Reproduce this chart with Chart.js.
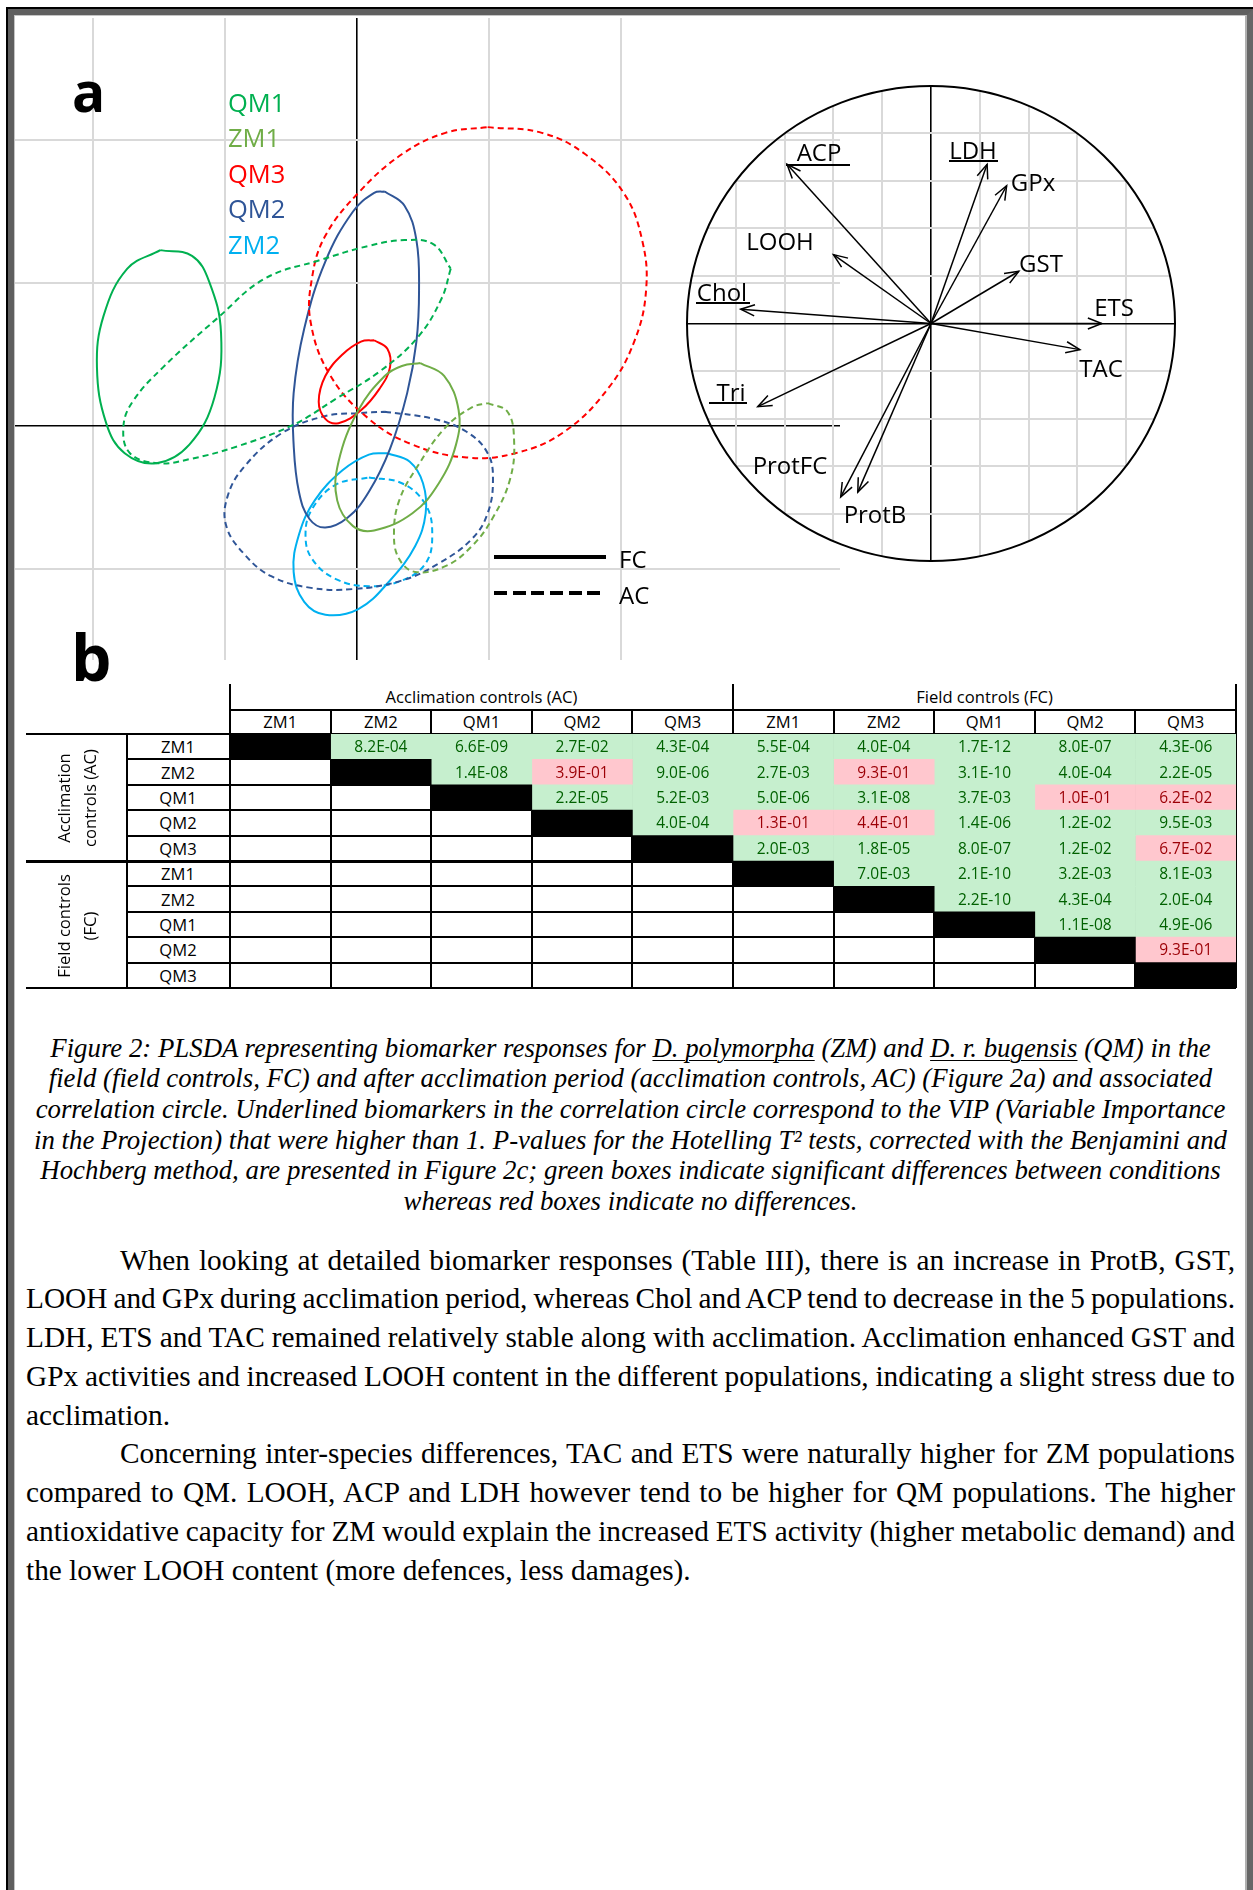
<!DOCTYPE html>
<html>
<head>
<meta charset="utf-8">
<script src="https://cdn.jsdelivr.net/npm/chart.js@4.4.0/dist/chart.umd.min.js"></script>
<style>
  html, body { margin: 0; padding: 0; background: #fff; }
  body { width: 1253px; height: 1890px; position: relative; overflow: hidden; font-family: "Open Sans", sans-serif; color: #000; }
  canvas, .abs { position: absolute; }
  #frame { position: absolute; left: 6px; top: 7px; width: 1247px; height: 1900px; border-left: 2px solid #000; border-top: 2px solid #000; box-sizing: border-box; z-index: 5; pointer-events: none; }
  #frame div { position: absolute; left: 0; top: 0; right: 0; bottom: 0; border-left: 6px solid #5f5f5f; border-top: 6px solid #5f5f5f; border-right: 6px solid #666; }
  #frame div div { border: none; border-left: 1px solid #c4c4c4; border-top: 1px solid #c4c4c4; border-right: 2px solid #b0b0b0; }
  .panel { font-weight: 700; line-height: 1; }
  .lg { font-size: 25.5px; line-height: 1; transform: translateY(-50%); }
  .cl { font-size: 24px; line-height: 1; transform: translate(-50%, -50%); white-space: nowrap; }
  .ul { height: 2px; background: #000; }
  .tl { background: #000; }
  .th { font-size: 16.6px; line-height: 1; transform: translate(-50%, -50%); white-space: nowrap; }
  .cap { left: 4px; width: 1253px; text-align: center; font-family: "Liberation Serif", "Times New Roman", serif; font-style: italic; font-size: 26.8px; height: 30.6px; line-height: 30.6px; white-space: nowrap; }
  .cap u { text-decoration-thickness: 1px; text-underline-offset: 3px; }
  .txt { font-family: "Liberation Serif", "Times New Roman", serif; font-size: 29.3px; height: 38.75px; line-height: 38.75px; }
  .j { text-align: justify; text-align-last: justify; word-spacing: -4px; }
</style>
</head>
<body>
<div id="frame"><div><div></div></div></div>

<!-- panel a -->
<canvas id="plsda" width="827" height="642" style="left:13px;top:18px"></canvas>
<canvas id="circle" width="508" height="495" style="left:676.5px;top:76px"></canvas>
<div class="abs panel" style="left:72px;top:63px;font-size:55px">a</div>
<div id="legend"></div>
<div class="abs" style="left:494px;top:555px;width:112px;height:4px;background:#000"></div>
<div class="abs" style="left:494px;top:591px;width:112px;height:4px;background:repeating-linear-gradient(90deg,#000 0 13px,transparent 13px 18.7px)"></div>
<div class="abs lg" style="left:619px;top:559px;font-size:24px">FC</div>
<div class="abs lg" style="left:619px;top:595px;font-size:24px">AC</div>
<div id="circleLabels"></div>

<!-- panel b -->
<div class="abs panel" style="left:71px;top:625px;font-size:64px">b</div>
<div id="tableDeco"></div>
<canvas id="ptable" width="1014" height="262" style="left:226px;top:730px"></canvas>

<!-- caption -->
<div class="abs cap" style="top:1032.7px">Figure 2: PLSDA representing biomarker responses for <u>D. polymorpha</u> (ZM) and <u>D. r. bugensis</u> (QM) in the</div>
<div class="abs cap" style="top:1063.3px">field (field controls, FC) and after acclimation period (acclimation controls, AC) (Figure 2a) and associated</div>
<div class="abs cap" style="top:1093.9px">correlation circle. Underlined biomarkers in the correlation circle correspond to the VIP (Variable Importance</div>
<div class="abs cap" style="top:1124.5px">in the Projection) that were higher than 1. P-values for the Hotelling T² tests, corrected with the Benjamini and</div>
<div class="abs cap" style="top:1155.1px">Hochberg method, are presented in Figure 2c; green boxes indicate significant differences between conditions</div>
<div class="abs cap" style="top:1185.7px">whereas red boxes indicate no differences.</div>

<!-- body text -->
<div class="abs txt j" style="left:120px;width:1115px;top:1240.6px">When looking at detailed biomarker responses (Table III), there is an increase in ProtB, GST,</div>
<div class="abs txt j" style="left:26px;width:1209px;top:1279.4px">LOOH and GPx during acclimation period, whereas Chol and ACP tend to decrease in the 5 populations.</div>
<div class="abs txt j" style="left:26px;width:1209px;top:1318.1px">LDH, ETS and TAC remained relatively stable along with acclimation. Acclimation enhanced GST and</div>
<div class="abs txt j" style="left:26px;width:1209px;top:1356.9px">GPx activities and increased LOOH content in the different populations, indicating a slight stress due to</div>
<div class="abs txt" style="left:26px;top:1395.6px">acclimation.</div>
<div class="abs txt j" style="left:120px;width:1115px;top:1434.4px">Concerning inter-species differences, TAC and ETS were naturally higher for ZM populations</div>
<div class="abs txt j" style="left:26px;width:1209px;top:1473.1px">compared to QM. LOOH, ACP and LDH however tend to be higher for QM populations. The higher</div>
<div class="abs txt j" style="left:26px;width:1209px;top:1511.9px">antioxidative capacity for ZM would explain the increased ETS activity (higher metabolic demand) and</div>
<div class="abs txt" style="left:26px;top:1550.6px">the lower LOOH content (more defences, less damages).</div>

<script>
// ---- panel a: PLSDA score ellipses (component 1, component 2) ----
const groups = ['QM1', 'ZM1', 'QM3', 'QM2', 'ZM2'];
const groupColors = ['#00b050', '#70ad47', '#ff0000', '#2f5597', '#00b0f0'];

const qm1FC = [[-1.49,1.23],[-1.25,1.19],[-1.12,1.01],[-1.03,0.65],[-1.08,0.20],[-1.27,-0.13],[-1.52,-0.26],[-1.76,-0.19],[-1.90,0.02],[-1.97,0.41],[-1.92,0.77],[-1.74,1.10]];
const qm1AC = [[0.71,1.10],[0.64,0.89],[0.46,0.62],[0.17,0.38],[-0.16,0.19],[-0.48,0.01],[-0.90,-0.14],[-1.26,-0.23],[-1.51,-0.26],[-1.72,-0.19],[-1.77,-0.01],[-1.70,0.17],[-1.47,0.41],[-1.05,0.76],[-0.70,1.03],[-0.28,1.16],[0.09,1.26],[0.36,1.30],[0.58,1.27]];
const zm1FC = [[0.48,0.44],[0.66,0.35],[0.77,0.11],[0.75,-0.13],[0.62,-0.40],[0.42,-0.61],[0.13,-0.73],[-0.03,-0.70],[-0.15,-0.52],[-0.14,-0.25],[0.01,0.11],[0.21,0.35],[0.34,0.42]];
const zm1AC = [[0.99,0.16],[1.14,0.10],[1.19,-0.10],[1.16,-0.37],[1.03,-0.64],[0.87,-0.84],[0.67,-0.98],[0.44,-1.02],[0.32,-0.93],[0.28,-0.76],[0.32,-0.52],[0.46,-0.28],[0.67,-0.01],[0.87,0.13]];
const qm3FC = [[0.13,0.60],[0.23,0.54],[0.25,0.41],[0.17,0.26],[0.03,0.11],[-0.14,0.02],[-0.24,0.05],[-0.29,0.17],[-0.24,0.35],[-0.11,0.50],[0.03,0.59]];
const qm3AC = [[0.99,2.09],[1.40,2.05],[1.73,1.90],[2.02,1.63],[2.16,1.30],[2.19,0.95],[2.10,0.59],[1.90,0.26],[1.57,-0.04],[1.20,-0.19],[0.83,-0.22],[0.42,-0.13],[0.09,0.05],[-0.20,0.35],[-0.35,0.72],[-0.34,1.04],[-0.24,1.33],[0.01,1.63],[0.34,1.90],[0.67,2.05]];
const qm2FC = [[0.21,1.64],[0.36,1.54],[0.45,1.30],[0.47,0.95],[0.45,0.59],[0.38,0.23],[0.25,-0.16],[0.09,-0.46],[-0.07,-0.64],[-0.24,-0.71],[-0.36,-0.65],[-0.44,-0.46],[-0.48,-0.13],[-0.48,0.23],[-0.40,0.68],[-0.24,1.15],[-0.03,1.50],[0.13,1.63]];
const qm2AC = [[0.21,0.10],[0.58,0.05],[0.83,-0.04],[0.99,-0.19],[1.03,-0.37],[0.99,-0.61],[0.87,-0.79],[0.62,-0.96],[0.34,-1.08],[-0.03,-1.14],[-0.36,-1.13],[-0.65,-1.05],[-0.85,-0.90],[-0.99,-0.70],[-0.98,-0.49],[-0.85,-0.28],[-0.57,-0.05],[-0.24,0.07],[0.01,0.09]];
const zm2FC = [[0.23,-0.19],[0.40,-0.25],[0.50,-0.40],[0.52,-0.61],[0.44,-0.84],[0.25,-1.08],[0.01,-1.28],[-0.24,-1.32],[-0.40,-1.23],[-0.48,-1.02],[-0.44,-0.76],[-0.32,-0.52],[-0.11,-0.31],[0.09,-0.20]];
const zm2AC = [[0.09,-0.36],[0.34,-0.40],[0.52,-0.55],[0.57,-0.76],[0.52,-0.96],[0.34,-1.08],[0.09,-1.12],[-0.16,-1.07],[-0.34,-0.93],[-0.39,-0.76],[-0.34,-0.58],[-0.16,-0.41]];

const fcEllipses = [qm1FC, zm1FC, qm3FC, qm2FC, zm2FC];
const acEllipses = [qm1AC, zm1AC, qm3AC, qm2AC, zm2AC];
const scoreTicksX = [-2, -1, 0, 1, 2];
const scoreTicksY = [-1, 0, 1, 2];

// ---- correlation circle loadings ----
const biomarkers = ['ACP', 'LDH', 'GPx', 'LOOH', 'GST', 'Chol', 'ETS', 'TAC', 'Tri', 'ProtFC', 'ProtB'];
const load1 = [-0.59, 0.23, 0.31, -0.40, 0.36, -0.78, 0.70, 0.61, -0.71, -0.37, -0.30];
const load2 = [0.67, 0.67, 0.58, 0.29, 0.22, 0.06, 0.00, -0.11, -0.35, -0.73, -0.71];
const circleTicks = [-0.8, -0.6, -0.4, -0.2, 0, 0.2, 0.4, 0.6, 0.8];

// ---- panel b: Hotelling T2 p-values ----
const conditions = ['ZM1', 'ZM2', 'QM1', 'QM2', 'QM3'];
const pValues = [
  [null, 8.2e-4, 6.6e-9, 2.7e-2, 4.3e-4, 5.5e-4, 4.0e-4, 1.7e-12, 8.0e-7, 4.3e-6],
  [null, null, 1.4e-8, 3.9e-1, 9.0e-6, 2.7e-3, 9.3e-1, 3.1e-10, 4.0e-4, 2.2e-5],
  [null, null, null, 2.2e-5, 5.2e-3, 5.0e-6, 3.1e-8, 3.7e-3, 1.0e-1, 6.2e-2],
  [null, null, null, null, 4.0e-4, 1.3e-1, 4.4e-1, 1.4e-6, 1.2e-2, 9.5e-3],
  [null, null, null, null, null, 2.0e-3, 1.8e-5, 8.0e-7, 1.2e-2, 6.7e-2],
  [null, null, null, null, null, null, 7.0e-3, 2.1e-10, 3.2e-3, 8.1e-3],
  [null, null, null, null, null, null, null, 2.2e-10, 4.3e-4, 2.0e-4],
  [null, null, null, null, null, null, null, null, 1.1e-8, 4.9e-6],
  [null, null, null, null, null, null, null, null, null, 9.3e-1],
  [null, null, null, null, null, null, null, null, null, null]
];
const alpha = 0.05;

const GRID = '#d9d9d9';
const off = { legend: { display: false }, tooltip: { enabled: false } };
const isZero = v => Math.abs(v) < 1e-9;
const toXY = pts => pts.concat([pts[0]]).map(p => ({ x: p[0], y: p[1] }));

// panel a
const scoreSets = [];
groups.forEach((g, i) => {
  scoreSets.push({ label: g + ' FC', data: toXY(fcEllipses[i]), borderColor: groupColors[i], borderWidth: 2, showLine: true, tension: 0.4, pointRadius: 0 });
  scoreSets.push({ label: g + ' AC', data: toXY(acEllipses[i]), borderColor: groupColors[i], borderWidth: 2, borderDash: [6, 4], showLine: true, tension: 0.4, pointRadius: 0 });
});

function axisOpts(min, max, ticks) {
  return {
    type: 'linear', min, max,
    afterBuildTicks: a => { a.ticks = ticks.map(v => ({ value: v })); },
    ticks: { display: false },
    border: { display: false },
    grid: {
      drawTicks: false,
      color: c => isZero(c.tick.value) ? '#000' : GRID,
      lineWidth: c => isZero(c.tick.value) ? 1.6 : 2
    }
  };
}

new Chart(document.getElementById('plsda'), {
  type: 'scatter',
  data: { datasets: scoreSets },
  options: {
    responsive: false, animation: false, layout: { padding: 0 }, plugins: off,
    scales: { x: axisOpts(-2.606, 3.659, scoreTicksX), y: axisOpts(-1.636, 2.853, scoreTicksY) }
  }
});

const legendBox = document.getElementById('legend');
groups.forEach((g, i) => {
  const d = document.createElement('div');
  d.className = 'abs lg';
  d.style.left = '228px';
  d.style.top = (102.5 + 35.5 * i) + 'px';
  d.style.color = groupColors[i];
  d.textContent = g;
  legendBox.appendChild(d);
});

// correlation circle
const circlePlugin = {
  id: 'unitCircle',
  beforeDraw(chart) {
    const { ctx, scales: { x, y } } = chart;
    const cx = x.getPixelForValue(0), cy = y.getPixelForValue(0);
    ctx.save();
    ctx.beginPath();
    ctx.ellipse(cx, cy, x.getPixelForValue(1) - cx, cy - y.getPixelForValue(1), 0, 0, Math.PI * 2);
    ctx.clip();
  },
  afterDatasetsDraw(chart) {
    const { ctx, scales: { x, y } } = chart;
    ctx.restore();
    const cx = x.getPixelForValue(0), cy = y.getPixelForValue(0);
    ctx.save();
    ctx.strokeStyle = '#000';
    ctx.lineWidth = 2;
    ctx.beginPath();
    ctx.ellipse(cx, cy, x.getPixelForValue(1) - cx, cy - y.getPixelForValue(1), 0, 0, Math.PI * 2);
    ctx.stroke();
    // open arrow heads
    ctx.lineWidth = 1.5;
    chart.data.datasets.forEach((ds, i) => {
      const pts = chart.getDatasetMeta(i).data;
      const a = pts[0], b = pts[1];
      const ang = Math.atan2(b.y - a.y, b.x - a.x);
      ctx.beginPath();
      ctx.moveTo(b.x - 15 * Math.cos(ang - 0.38), b.y - 15 * Math.sin(ang - 0.38));
      ctx.lineTo(b.x, b.y);
      ctx.lineTo(b.x - 15 * Math.cos(ang + 0.38), b.y - 15 * Math.sin(ang + 0.38));
      ctx.stroke();
    });
    ctx.restore();
  }
};

new Chart(document.getElementById('circle'), {
  type: 'scatter',
  data: {
    datasets: biomarkers.map((b, i) => ({
      label: b, data: [{ x: 0, y: 0 }, { x: load1[i], y: load2[i] }],
      showLine: true, borderColor: '#000', borderWidth: 1.5, pointRadius: 0
    }))
  },
  options: {
    responsive: false, animation: false, layout: { padding: 0 }, plugins: off,
    scales: { x: axisOpts(-1.041, 1.041, circleTicks), y: axisOpts(-1.042, 1.042, circleTicks) }
  },
  plugins: [circlePlugin]
});

// biomarker labels (pixel positions on the page) and VIP underlines
const labelSpots = {
  ACP: [819, 152, 786, 850, 165], LDH: [973, 150, 949, 998, 161], GPx: [1033, 182],
  LOOH: [780, 241], GST: [1041, 263], Chol: [722, 292, 696, 750, 303], ETS: [1114, 307],
  TAC: [1101, 368], Tri: [731, 392, 709, 747, 403], ProtFC: [790, 465], ProtB: [875, 514]
};
const cl = document.getElementById('circleLabels');
biomarkers.forEach(b => {
  const s = labelSpots[b];
  const d = document.createElement('div');
  d.className = 'abs cl';
  d.style.left = s[0] + 'px';
  d.style.top = s[1] + 'px';
  d.textContent = b;
  cl.appendChild(d);
  if (s.length > 2) {
    const u = document.createElement('div');
    u.className = 'abs ul';
    u.style.left = s[2] + 'px';
    u.style.width = (s[3] - s[2]) + 'px';
    u.style.top = (s[4] - 1) + 'px';
    cl.appendChild(u);
  }
});

// ---- table (panel b) ----
const TL = 230, TR = 1236, TOP = 734, BOT = 988;
const colW = (TR - TL) / 10, rowH = (BOT - TOP) / 10;
const allNames = conditions.concat(conditions);
const fmt = p => {
  const [m, e] = p.toExponential(1).split('e');
  const n = Math.abs(+e);
  return m + 'E' + (+e < 0 ? '-' : '+') + (n < 10 ? '0' + n : n);
};

const cellSets = allNames.map((name, c) => ({
  label: name,
  data: pValues.map((row, r) => (r <= c ? [c, c + 1] : null)),
  backgroundColor: pValues.map((row, r) => r === c ? '#000' : (row[c] > alpha ? '#ffc7ce' : '#c6efce')),
  grouped: false, barPercentage: 1, categoryPercentage: 1, borderWidth: 0
}));

const cellText = {
  id: 'cellText',
  afterDraw(chart) {
    const ctx = chart.ctx;
    ctx.save();
    ctx.font = '15.5px "Open Sans"';
    ctx.textAlign = 'center';
    ctx.textBaseline = 'middle';
    chart.data.datasets.forEach((ds, c) => {
      chart.getDatasetMeta(c).data.forEach((el, r) => {
        const p = pValues[r][c];
        if (p == null || r === c) return;
        ctx.fillStyle = p > alpha ? '#9c0006' : '#006100';
        ctx.fillText(fmt(p), (el.x + el.base) / 2, el.y + 1);
      });
    });
    ctx.restore();
  }
};

new Chart(document.getElementById('ptable'), {
  type: 'bar',
  data: { labels: allNames.map((n, i) => (i < 5 ? 'AC ' : 'FC ') + n), datasets: cellSets },
  options: {
    indexAxis: 'y', responsive: false, animation: false, plugins: off,
    layout: { padding: 4 },
    scales: {
      x: {
        type: 'linear', min: 0, max: 10, z: 1,
        afterBuildTicks: a => { a.ticks = [0,1,2,3,4,5,6,7,8,9,10].map(v => ({ value: v })); },
        ticks: { display: false }, border: { display: false },
        grid: { drawTicks: false, color: '#000', lineWidth: 2 }
      },
      y: {
        type: 'category', offset: true, z: 1,
        ticks: { display: false }, border: { display: false },
        grid: { offset: true, drawTicks: false, color: '#000', lineWidth: c => (c.index === 5 ? 3 : 2) }
      }
    }
  },
  plugins: [cellText]
});

// header text, row labels and the rules outside the cell area
const deco = document.getElementById('tableDeco');
function rule(x, y, w, h) {
  const d = document.createElement('div');
  d.className = 'abs tl';
  Object.assign(d.style, { left: x + 'px', top: y + 'px', width: w + 'px', height: h + 'px' });
  deco.appendChild(d);
}
function label(txt, x, y, extra) {
  const d = document.createElement('div');
  d.className = 'abs th';
  d.style.left = x + 'px';
  d.style.top = y + 'px';
  if (extra) Object.assign(d.style, extra);
  d.innerHTML = txt;
  deco.appendChild(d);
}
[TL, TL + 5 * colW, TR].forEach(x => rule(x - 1, 684, 2, TOP - 684));
for (let k = 1; k < 10; k++) rule(TL + k * colW - 1, 710, 2, TOP - 710);
rule(TL, 709, TR - TL + 1, 2);
rule(26, TOP - 1, TL - 26, 2);
rule(126, TOP, 2, BOT - TOP);
for (let k = 1; k < 10; k++) {
  if (k === 5) rule(26, TOP + k * rowH - 1.5, TL - 26, 3);
  else rule(127, TOP + k * rowH - 1, TL - 127, 2);
}
rule(26, BOT - 1, TL - 26, 2);
label('Acclimation controls (AC)', TL + 2.5 * colW, 697);
label('Field controls (FC)', TL + 7.5 * colW, 697);
allNames.forEach((n, i) => {
  label(n, TL + (i + 0.5) * colW, 722);
  label(n, 178, TOP + (i + 0.5) * rowH + 0.5);
});
label('Acclimation<br>controls (AC)', 77, 798, { transform: 'translate(-50%,-50%) rotate(-90deg)', lineHeight: '26px', textAlign: 'center' });
label('Field controls<br>(FC)', 77, 926, { transform: 'translate(-50%,-50%) rotate(-90deg)', lineHeight: '26px', textAlign: 'center' });
</script>
</body>
</html>
